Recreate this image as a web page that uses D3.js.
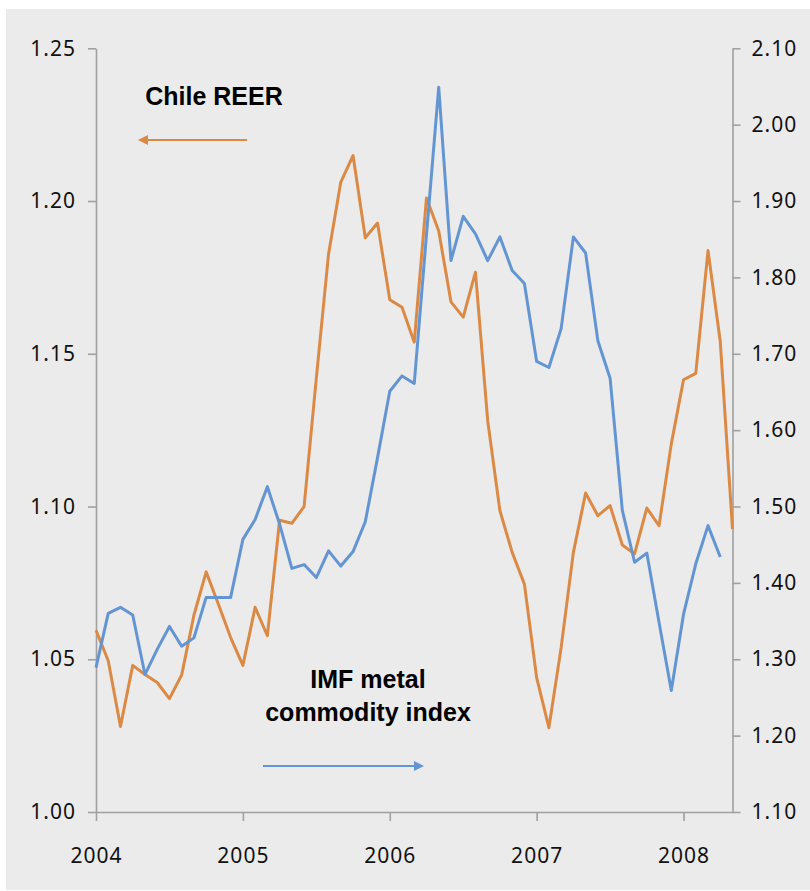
<!DOCTYPE html>
<html>
<head>
<meta charset="utf-8">
<script src="https://cdn.jsdelivr.net/npm/d3@7"></script>
<style>
    body { margin: 0; background: #ffffff; }
    .tick text { font-family: "Noto Sans", "Open Sans", sans-serif; font-size: 21px; fill: #111; letter-spacing: 1px; }
    .note { font-family: "Liberation Sans", Arial, sans-serif; font-weight: bold; font-size: 25px; fill: #000; }
</style>
</head>
<body>
<div id="chart"></div>
<script>

//Monthly data, Jan 2004 - May 2008
var reer = [
    1.0595, 1.0495, 1.028, 1.048, 1.045, 1.0424, 1.0371, 1.0449, 1.0644, 1.0786, 1.068, 1.0571,
    1.048, 1.067, 1.0577, 1.0955, 1.0945, 1.100, 1.142, 1.1827, 1.2062, 1.2149, 1.188, 1.1928,
    1.1677, 1.1652, 1.1538, 1.2010, 1.1902, 1.1670, 1.1620, 1.1767, 1.1281, 1.0986, 1.0850, 1.0746,
    1.0440, 1.0276, 1.0538, 1.0850, 1.1044, 1.0970, 1.1003, 1.0874, 1.0845, 1.0995, 1.0937, 1.1205,
    1.1415, 1.1436, 1.1838, 1.1540, 1.0926
];

var metals = [
    1.289, 1.360, 1.368, 1.358, 1.280, 1.313, 1.343, 1.317, 1.328, 1.381, 1.381, 1.381,
    1.457, 1.483, 1.526, 1.477, 1.419, 1.424, 1.407, 1.442, 1.422, 1.441, 1.480, 1.564,
    1.651, 1.671, 1.661, 1.856, 2.049, 1.822, 1.880, 1.857, 1.822, 1.853, 1.809, 1.792,
    1.690, 1.682, 1.733, 1.853, 1.832, 1.717, 1.668, 1.495, 1.427, 1.439, 1.348, 1.259,
    1.359, 1.425, 1.475, 1.434
];

var years = ["2004", "2005", "2006", "2007", "2008"];
var leftTicks = [1.00, 1.05, 1.10, 1.15, 1.20, 1.25];
var rightTicks = [1.10, 1.20, 1.30, 1.40, 1.50, 1.60, 1.70, 1.80, 1.90, 2.00, 2.10];

var orange = "#db8a45";
var blue = "#6495d3";
var axisColor = "#a0a0a0";

var width = 810, height = 891;
var plot = {left: 96, right: 732.5, top: 48.3, bottom: 812};

var svg = d3.select("#chart").append("svg")
    .attr("width", width)
    .attr("height", height);

svg.append("rect")
    .attr("x", 6).attr("y", 9)
    .attr("width", 804).attr("height", 881)
    .attr("fill", "#ebebeb");


//**************************************************************************
//** scales
//**************************************************************************
var x = d3.scaleLinear().domain([0, reer.length - 1]).range([plot.left, plot.right]);
var yLeft = d3.scaleLinear().domain([1.00, 1.25]).range([plot.bottom, plot.top]);
var yRight = d3.scaleLinear().domain([1.10, 2.10]).range([plot.bottom, plot.top]);


//**************************************************************************
//** axes
//**************************************************************************
var styleAxis = function(g){
    g.selectAll(".domain").attr("stroke", axisColor).attr("stroke-width", 1.6);
    g.selectAll(".tick line").attr("stroke", axisColor).attr("stroke-width", 1.6);
};

svg.append("g")
    .attr("transform", "translate(" + plot.left + ",0)")
    .call(d3.axisLeft(yLeft)
        .tickValues(leftTicks)
        .tickSize(8)
        .tickSizeOuter(0)
        .tickPadding(12)
        .tickFormat(d3.format(".2f")))
    .call(styleAxis);

svg.append("g")
    .attr("transform", "translate(" + plot.right + ",0)")
    .call(d3.axisRight(yRight)
        .tickValues(rightTicks)
        .tickSize(8)
        .tickSizeOuter(0)
        .tickPadding(11)
        .tickFormat(d3.format(".2f")))
    .call(styleAxis);

svg.append("g")
    .attr("transform", "translate(0," + plot.bottom + ")")
    .call(d3.axisBottom(x)
        .tickValues(years.map(function(d, i){ return i * 12; }))
        .tickSize(9)
        .tickSizeOuter(0)
        .tickPadding(27)
        .tickFormat(function(d){ return years[d / 12]; }))
    .call(styleAxis);


//**************************************************************************
//** lines
//**************************************************************************
var lineLeft = d3.line()
    .x(function(d, i){ return x(i); })
    .y(function(d){ return yLeft(d); });

var lineRight = d3.line()
    .x(function(d, i){ return x(i); })
    .y(function(d){ return yRight(d); });

svg.append("path")
    .datum(reer)
    .attr("d", lineLeft)
    .attr("fill", "none")
    .attr("stroke", orange)
    .attr("stroke-width", 3)
    .attr("stroke-linejoin", "round");

svg.append("path")
    .datum(metals)
    .attr("d", lineRight)
    .attr("fill", "none")
    .attr("stroke", blue)
    .attr("stroke-width", 3)
    .attr("stroke-linejoin", "round");


//**************************************************************************
//** annotations
//**************************************************************************
var defs = svg.append("defs");
[["arrowOrange", orange], ["arrowBlue", blue]].forEach(function(m){
    defs.append("marker")
        .attr("id", m[0])
        .attr("viewBox", "0 0 10 10")
        .attr("refX", 8).attr("refY", 5)
        .attr("markerWidth", 5).attr("markerHeight", 5)
        .attr("orient", "auto")
        .append("path")
        .attr("d", "M0,0L10,5L0,10Z")
        .attr("fill", m[1]);
});

svg.append("line")
    .attr("x1", 247).attr("y1", 140)
    .attr("x2", 140).attr("y2", 140)
    .attr("stroke", orange).attr("stroke-width", 2)
    .attr("marker-end", "url(#arrowOrange)");

svg.append("line")
    .attr("x1", 263).attr("y1", 766)
    .attr("x2", 422).attr("y2", 766)
    .attr("stroke", blue).attr("stroke-width", 2)
    .attr("marker-end", "url(#arrowBlue)");

svg.append("text")
    .attr("class", "note")
    .attr("x", 214).attr("y", 105)
    .attr("text-anchor", "middle")
    .text("Chile REER");

svg.append("text")
    .attr("class", "note")
    .attr("x", 368).attr("y", 688)
    .attr("text-anchor", "middle")
    .text("IMF metal");

svg.append("text")
    .attr("class", "note")
    .attr("x", 368).attr("y", 721)
    .attr("text-anchor", "middle")
    .text("commodity index");

</script>
</body>
</html>
